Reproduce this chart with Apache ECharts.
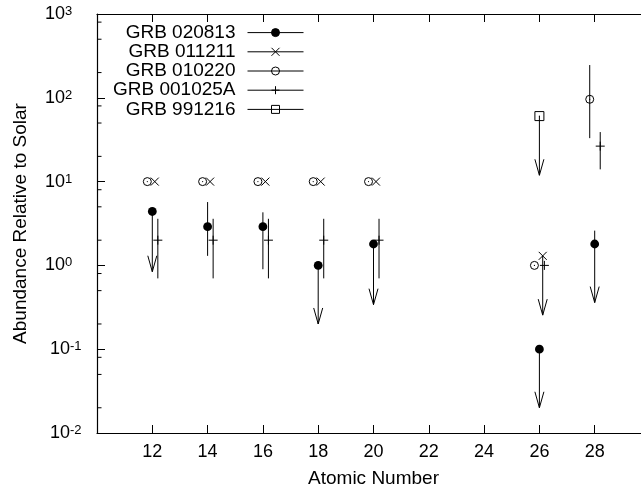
<!DOCTYPE html>
<html>
<head>
<meta charset="utf-8">
<script src="https://cdn.jsdelivr.net/npm/echarts@6/dist/echarts.min.js"></script>
<style>
  html, body { margin: 0; padding: 0; background: #fff; }
  #chart { width: 641px; height: 497px; }
</style>
</head>
<body>
<div id="chart"></div>
<script>
// atomic number axis
const xTicks = [12, 14, 16, 18, 20, 22, 24, 26, 28];
const yMinorTicks = [0.02, 0.05, 0.08, 0.2, 0.5, 0.8, 2, 5, 8, 20, 50, 80, 200, 500, 800];

// GRB 020813 (filled circle)
const g020813_z   = [12, 14, 16, 18, 20, 26, 28];
const g020813_val = [4.4, 2.9, 2.9, 1.0, 1.8, 0.1, 1.8];
const g020813_lo  = [0.84, 1.3, 0.9, 0.2, 0.34, 0.02, 0.36];
const g020813_hi  = [null, 5.7, 4.3, null, null, null, 2.6];
const g020813_lim = [1, 0, 0, 1, 1, 1, 1];

// GRB 011211 (cross)
const g011211_z   = [12.09, 14.09, 16.09, 18.09, 20.09, 26.12];
const g011211_val = [10, 10, 10, 10, 10, 1.3];
const g011211_lo  = [null, null, null, null, null, 0.255];
const g011211_hi  = [null, null, null, null, null, null];
const g011211_lim = [0, 0, 0, 0, 0, 1];

// GRB 010220 (open circle)
const g010220_z   = [11.82, 13.82, 15.82, 17.82, 19.82, 25.82, 27.82];
const g010220_val = [10, 10, 10, 10, 10, 1.0, 96];
const g010220_lo  = [null, null, null, null, null, null, 33];
const g010220_hi  = [null, null, null, null, null, null, 246];
const g010220_lim = [0, 0, 0, 0, 0, 0, 0];

// GRB 001025A (plus)
const g001025_z   = [12.2, 14.2, 16.2, 18.2, 20.2, 26.18, 28.2];
const g001025_val = [2, 2, 2, 2, 2, 1.0, 26.5];
const g001025_lo  = [0.7, 0.7, 0.7, 0.7, 0.7, null, 14];
const g001025_hi  = [3.6, 3.6, 3.6, 3.6, 3.6, null, 39];
const g001025_lim = [0, 0, 0, 0, 0, 0, 0];

// GRB 991216 (square)
const g991216_z   = [26];
const g991216_val = [60.5];
const g991216_lo  = [11.9];
const g991216_hi  = [null];
const g991216_lim = [1];

const FONT = 'Liberation Sans, Arial, Helvetica, sans-serif';

function rows(z, val, lo, hi, lim) {
  return z.map((zz, i) => [zz, val[i],
    lo[i] == null ? val[i] : lo[i],
    hi[i] == null ? val[i] : hi[i],
    lim[i]]);
}

function seg(x1, y1, x2, y2) {
  return { type: 'line', shape: { x1, y1, x2, y2 }, style: { stroke: '#000', lineWidth: 1 } };
}

function marker(kind, x, y) {
  switch (kind) {
    case 'fcircle':
      return [{ type: 'circle', shape: { cx: x, cy: y, r: 4.4 }, style: { fill: '#000' } }];
    case 'x':
      return [seg(x - 4, y - 4, x + 4, y + 4), seg(x - 4, y + 4, x + 4, y - 4)];
    case 'ocircle':
      return [{ type: 'circle', shape: { cx: x, cy: y, r: 4 }, style: { fill: 'none', stroke: '#000', lineWidth: 1 } },
              { type: 'circle', shape: { cx: x, cy: y, r: 0.6 }, style: { fill: '#000' } }];
    case 'plus':
      return [seg(x - 4.5, y, x + 4.5, y), seg(x, y - 4.5, x, y + 4.5)];
    case 'square':
      return [{ type: 'rect', shape: { x: x - 4.5, y: y - 4.5, width: 9, height: 9 }, style: { fill: 'none', stroke: '#000', lineWidth: 1 } },
              { type: 'circle', shape: { cx: x, cy: y, r: 0.6 }, style: { fill: '#000' } }];
  }
  return [];
}

function pointRenderer(kind) {
  return function (params, api) {
    const z = api.value(0);
    const p = api.coord([z, api.value(1)]);
    const lo = api.coord([z, api.value(2)]);
    const hi = api.coord([z, api.value(3)]);
    const children = [];
    if (Math.abs(lo[1] - hi[1]) > 0.5) {
      children.push(seg(p[0], hi[1], p[0], lo[1]));
    }
    if (api.value(4)) {
      children.push(seg(p[0] - 4.5, lo[1] - 16, p[0], lo[1]));
      children.push(seg(p[0] + 4.5, lo[1] - 16, p[0], lo[1]));
    }
    return { type: 'group', children: children.concat(marker(kind, p[0], p[1])) };
  };
}

const sets = [
  { name: 'GRB 020813', kind: 'fcircle', data: rows(g020813_z, g020813_val, g020813_lo, g020813_hi, g020813_lim),
    symbol: 'circle', fill: '#000' },
  { name: 'GRB 011211', kind: 'x', data: rows(g011211_z, g011211_val, g011211_lo, g011211_hi, g011211_lim),
    symbol: 'path://M0,0L10,10M0,10L10,0', fill: 'none' },
  { name: 'GRB 010220', kind: 'ocircle', data: rows(g010220_z, g010220_val, g010220_lo, g010220_hi, g010220_lim),
    symbol: 'path://M10,5A5,5 0 1,1 0,5A5,5 0 1,1 10,5Z', fill: 'none' },
  { name: 'GRB 001025A', kind: 'plus', data: rows(g001025_z, g001025_val, g001025_lo, g001025_hi, g001025_lim),
    symbol: 'path://M5,0L5,10M0,5L10,5', fill: 'none' },
  { name: 'GRB 991216', kind: 'square', data: rows(g991216_z, g991216_val, g991216_lo, g991216_hi, g991216_lim),
    symbol: 'rect', fill: 'none' }
];

const series = [];
// legend-only line series (drawn first so the legend takes their icon)
sets.forEach(s => {
  series.push({
    type: 'line', name: s.name, data: [], symbol: s.symbol, symbolSize: 8,
    itemStyle: { color: s.fill, borderColor: '#000', borderWidth: 1 },
    lineStyle: { color: '#000', width: 1 }
  });
});
sets.forEach(s => {
  series.push({
    type: 'custom', name: s.name, data: s.data, encode: { x: 0, y: 1 },
    renderItem: pointRenderer(s.kind), clip: false, z: 3
  });
});
// minor ticks on the log axis
series.push({
  type: 'custom', name: 'minor', data: yMinorTicks.map(v => [10, v]), encode: { x: 0, y: 1 },
  silent: true, clip: false,
  renderItem: function (params, api) {
    const p = api.coord([api.value(0), api.value(1)]);
    return seg(p[0], p[1], p[0] + 4.5, p[1]);
  }
});

const chart = echarts.init(document.getElementById('chart'), null, { renderer: 'canvas' });
chart.setOption({
  animation: false,
  backgroundColor: '#fff',
  textStyle: { fontFamily: FONT, color: '#000' },
  grid: { left: 97, right: -9, top: 14, bottom: 64, outerBoundsMode: 'none' },
  legend: {
    orient: 'vertical', right: 337, top: 23, padding: 0,
    itemWidth: 56, itemHeight: 10, itemGap: 0, align: 'right',
    data: sets.map(s => s.name),
    itemStyle: { borderWidth: 1, borderColor: '#000' },
    lineStyle: { width: 1, color: '#000' },
    textStyle: { fontFamily: FONT, fontSize: 19, color: '#000', lineHeight: 19.2, padding: [0, 7, 0, 0] }
  },
  xAxis: [{
    type: 'value', min: 10, max: 30, interval: 2,
    name: 'Atomic Number', nameLocation: 'middle', nameGap: 36,
    nameTextStyle: { fontFamily: FONT, fontSize: 19, color: '#000' },
    axisLine: { lineStyle: { color: '#000', width: 1.2 } },
    axisTick: { inside: true, length: 8, lineStyle: { color: '#000' } },
    axisLabel: {
      fontFamily: FONT, fontSize: 18, color: '#000', margin: 10,
      formatter: v => (xTicks.indexOf(v) >= 0 ? String(v) : '')
    },
    splitLine: { show: false }
  }, {
    type: 'value', position: 'top', min: 10, max: 30, interval: 2,
    axisLine: { lineStyle: { color: '#000', width: 1.2 } },
    axisTick: { inside: true, length: 8, lineStyle: { color: '#000' } },
    axisLabel: { show: false },
    splitLine: { show: false }
  }],
  yAxis: {
    type: 'log', logBase: 10, min: 0.01, max: 1000,
    name: 'Abundance Relative to Solar', nameLocation: 'middle', nameGap: 67,
    nameTextStyle: { fontFamily: FONT, fontSize: 19, color: '#000' },
    axisLine: { show: true, lineStyle: { color: '#000', width: 1.2 } },
    axisTick: { inside: true, length: 8, lineStyle: { color: '#000' } },
    axisLabel: {
      align: 'left', margin: 52, color: '#000',
      formatter: function (v) {
        const e = Math.round(Math.log10(v));
        return (e < 0 ? '{g| }' : '') + '{b|10}{s|' + e + '}';
      },
      rich: {
        g: { width: 5, fontSize: 18 },
        b: { fontFamily: FONT, fontSize: 18, lineHeight: 18, verticalAlign: 'bottom', color: '#000' },
        s: { fontFamily: FONT, fontSize: 13, lineHeight: 13, verticalAlign: 'top', padding: [0, 0, 8, 0], color: '#000' }
      }
    },
    splitLine: { show: false }
  },
  series: series
});
</script>
</body>
</html>
